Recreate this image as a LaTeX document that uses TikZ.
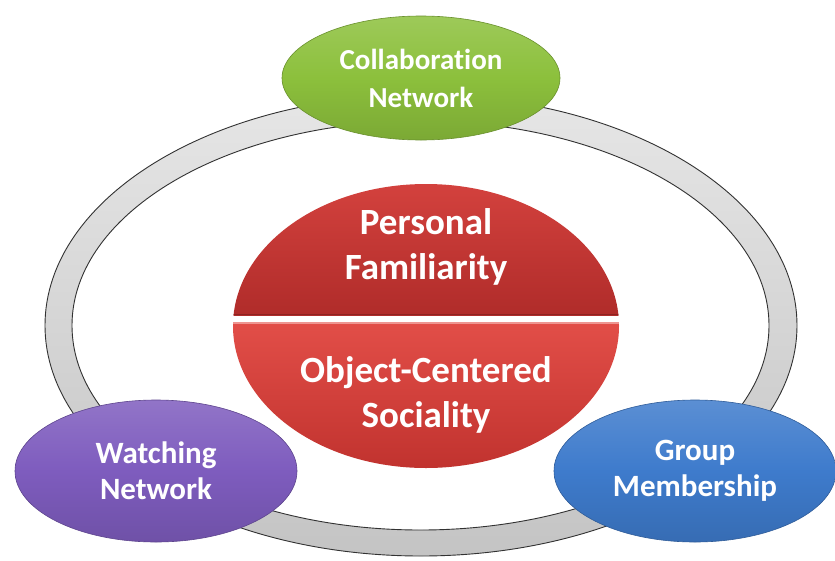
\documentclass[tikz,border=0pt]{standalone}
\usepackage{fontspec}
\setmainfont{Carlito}[Ligatures=NoCommon]
\usetikzlibrary{shapes.geometric}
\definecolor{cgreen}{RGB}{140,192,60}
\definecolor{cpurple}{RGB}{126,92,190}
\definecolor{cblue}{RGB}{62,123,204}
\definecolor{redA}{RGB}{212,66,62}
\definecolor{redB}{RGB}{176,44,42}
\definecolor{redC}{RGB}{226,78,72}
\definecolor{redD}{RGB}{192,50,46}
\definecolor{ringtop}{RGB}{230,230,230}
\definecolor{ringbot}{RGB}{196,196,196}
\definecolor{ringline}{RGB}{50,50,50}
\begin{document}
\begin{tikzpicture}[x=1pt,y=-1pt,
  side/.style={ellipse, inner sep=0pt, align=center, text=white,
    font=\fontsize{31}{36}\selectfont\bfseries,
    draw=#1!75!black, line width=0.6pt,
    top color=#1!85!white, bottom color=#1!88!black, middle color=#1},
  redtext/.style={align=center, text=white, inner sep=0pt,
    font=\fontsize{37}{45}\selectfont\bfseries},
  ringedge/.style={draw=ringline, line width=0.9pt}]
\fill[white] (0,0) rectangle (835,560);
\useasboundingbox (0,0) rectangle (835,560);
% outer ring
\shade[top color=ringtop, bottom color=ringbot, even odd rule]
  (421,325.5) ellipse [x radius=376pt, y radius=230.5pt]
  (420.5,325.5) ellipse [x radius=348.5pt, y radius=204.5pt];
\draw[ringedge] (421,325.5) ellipse [x radius=376pt, y radius=230.5pt];
\draw[ringedge] (420.5,325.5) ellipse [x radius=348.5pt, y radius=204.5pt];
% central split ellipse
\begin{scope}
  \clip (426,326) ellipse [x radius=193pt, y radius=142pt];
  \shade[top color=redA, bottom color=redB] (230,180) rectangle (625,315);
  \shade[top color=redC, bottom color=redD] (230,322) rectangle (625,472);
  \draw[redB!80!black, line width=1pt] (230,314.5) -- (625,314.5);
  \draw[redC!60!white, line width=1.5pt] (230,323) -- (625,323);
\end{scope}
\node[redtext] (pf) at (426,247) {Personal\\Familiarity};
\node[redtext] (ocs) at (426,395) {Object-Centered\\Sociality};
% side ellipses
\node[side=cgreen, font=\fontsize{29}{38}\selectfont\bfseries, minimum width=278pt, minimum height=124pt] (collab) at (421,78) {Collaboration\\Network};
\node[side=cpurple, minimum width=282pt, minimum height=142pt] (watch) at (156,471) {Watching\\Network};
\node[side=cblue, minimum width=282pt, minimum height=142pt] (group) at (695,471) {Group\\Membership};
\end{tikzpicture}
\end{document}
